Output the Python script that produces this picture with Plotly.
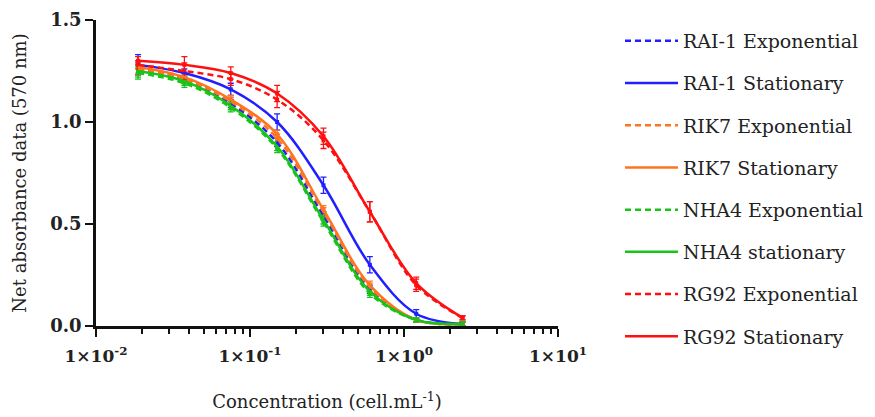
import plotly.graph_objects as go

# concentrations (cell.mL-1), two-fold dilution series
conc = [0.01875, 0.0375, 0.075, 0.15, 0.3, 0.6, 1.2, 2.4]

rai1_exp = [1.26, 1.21, 1.09, 0.90, 0.54, 0.18, 0.03, 0.01]
rai1_sta = [1.28, 1.24, 1.16, 1.00, 0.69, 0.30, 0.06, 0.01]
rik7_exp = [1.26, 1.21, 1.10, 0.92, 0.56, 0.19, 0.03, 0.01]
rik7_sta = [1.27, 1.22, 1.11, 0.94, 0.57, 0.20, 0.03, 0.01]
nha4_exp = [1.24, 1.19, 1.07, 0.87, 0.51, 0.16, 0.03, 0.01]
nha4_sta = [1.25, 1.20, 1.08, 0.88, 0.52, 0.17, 0.03, 0.01]
rg92_exp = [1.28, 1.25, 1.21, 1.11, 0.91, 0.56, 0.20, 0.04]
rg92_sta = [1.30, 1.28, 1.24, 1.14, 0.93, 0.56, 0.21, 0.04]

err_small = [0.03, 0.02, 0.02, 0.02, 0.02, 0.02, 0.01, 0.01]
err_rai1 = [0.05, 0.02, 0.03, 0.04, 0.04, 0.04, 0.02, 0.01]
err_rg92 = [0.02, 0.04, 0.03, 0.04, 0.04, 0.05, 0.03, 0.01]

series = [
    ("RAI-1 Exponential", rai1_exp, err_small, "#1f1fff", "6px,4px"),
    ("RAI-1 Stationary", rai1_sta, err_rai1, "#1f1fff", "solid"),
    ("RIK7 Exponential", rik7_exp, err_small, "#ff7420", "6px,4px"),
    ("RIK7 Stationary", rik7_sta, err_small, "#ff7420", "solid"),
    ("NHA4 Exponential", nha4_exp, err_small, "#19c419", "6px,4px"),
    ("NHA4 stationary", nha4_sta, err_small, "#19c419", "solid"),
    ("RG92 Exponential", rg92_exp, err_rg92, "#ff1010", "6px,4px"),
    ("RG92 Stationary", rg92_sta, err_rg92, "#ff1010", "solid"),
]

x_tickvals = [0.01, 0.1, 1, 10]
x_ticktext = ["1×10<sup>-2</sup>", "1×10<sup>-1</sup>", "1×10<sup>0</sup>", "1×10<sup>1</sup>"]
minor_vals = [k * 10 ** e for e in (-2, -1, 0) for k in range(2, 10)]

serif = "DejaVu Serif"

fig = go.Figure()

for name, vals, err, col, dash in series:
    fig.add_trace(go.Scatter(
        x=conc, y=vals, mode="markers", showlegend=False,
        marker=dict(size=4, color=col, symbol="square"),
        error_y=dict(type="data", array=err, color=col, thickness=1.3, width=3),
        hoverinfo="skip"))

for name, vals, err, col, dash in series:
    fig.add_trace(go.Scatter(
        x=conc, y=vals, mode="lines", name=name, legendgroup=name,
        line=dict(shape="spline", smoothing=1.0, color=col, width=2.5, dash=dash)))

# page body adds an 8px offset, so the figure is sized to fit the window
fig.update_layout(
    width=867, height=409,
    margin=dict(l=88, r=317, t=12, b=91),
    paper_bgcolor="white", plot_bgcolor="white",
    font=dict(family=serif, color="#222"),
    legend=dict(
        x=612 / 867, y=1 - 14 / 409, xref="container", yref="container",
        xanchor="left", yanchor="top", maxheight=400,
        font=dict(family=serif, size=19, color="#222"),
        tracegroupgap=14.5, itemwidth=53, bgcolor="rgba(0,0,0,0)"),
    xaxis=dict(
        type="log", range=[-2, 1], automargin=False,
        tickvals=x_tickvals, ticktext=x_ticktext,
        ticks="outside", ticklen=8, tickwidth=2, tickcolor="#111",
        minor=dict(tickvals=minor_vals, ticks="outside", ticklen=5, tickwidth=2, tickcolor="#111"),
        showline=True, linewidth=2.5, linecolor="#111",
        showgrid=False, zeroline=False,
        tickfont=dict(family=serif, size=17, color="#222", weight="bold"),
        ticklabelstandoff=5,
        title=dict(text="Concentration (cell.mL<sup>-1</sup>)",
                   font=dict(family=serif, size=18, color="#222"), standoff=31)),
    yaxis=dict(
        range=[0, 1.5], tickvals=[0, 0.5, 1.0, 1.5], automargin=False,
        ticktext=["0.0", "0.5", "1.0", "1.5"],
        ticks="outside", ticklen=8, tickwidth=2, tickcolor="#111",
        showline=True, linewidth=2.5, linecolor="#111",
        showgrid=False, zeroline=False,
        tickfont=dict(family=serif, size=18, color="#222", weight="bold"),
        title=dict(text="Net absorbance data (570 nm)",
                   font=dict(family=serif, size=18, color="#222"), standoff=20)),
)

fig.write_html("out.html")
